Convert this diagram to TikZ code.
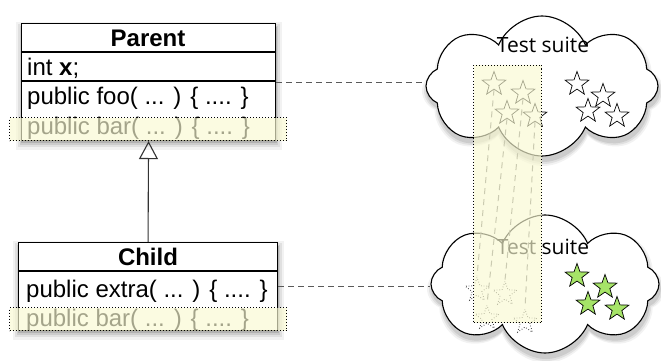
\documentclass[tikz,border=0pt]{standalone}
\usepackage{fontspec}
\setmainfont{Liberation Sans}
\newfontfamily\cloudfont{Open Sans}
\usetikzlibrary{shapes.geometric,shapes.symbols,arrows.meta}
\definecolor{hl}{RGB}{249,249,210}
\definecolor{stargreen}{RGB}{166,228,104}
\definecolor{shA}{gray}{0.95}
\definecolor{shB}{gray}{0.88}
\definecolor{shC}{gray}{0.80}
\definecolor{shD}{gray}{0.70}
\begin{document}
\begin{tikzpicture}[x=1pt,y=-1pt,
  umlbox/.style={draw=black, line width=1.1pt, fill=white, inner sep=0pt},
  sepline/.style={line width=1.1pt},
  txt/.style={inner sep=0pt, font=\fontsize{24}{28}\selectfont},
  hlrow/.style={draw=black, dotted, line width=1pt, fill=hl, fill opacity=0.66, inner sep=0pt},
  cloudbase/.style={cloud, cloud puffs=8, cloud puff arc=135, inner sep=0pt},
  cloudnode/.style={cloudbase, draw=black, line width=1.1pt, fill=white},
  cloudtxt/.style={inner sep=0pt, font=\cloudfont\fontsize{21}{24}\selectfont},
  starnode/.style={star, star points=5, star point ratio=2.45, minimum size=25pt, inner sep=0pt, draw=black, line width=0.7pt},
  ghost/.style={starnode, draw=black!75, dotted, line width=0.9pt},
  conn/.style={draw=black!65, dashed, dash pattern=on 6pt off 4pt, line width=1.1pt},
  trail/.style={draw=black!55, dashed, dash pattern=on 6pt off 5pt, line width=1pt}
]
\useasboundingbox (0,0) rectangle (661,361);

% cloud shadows
\node[cloudbase, fill=shA, minimum width=242pt, minimum height=150pt] (c1shA) at (543,91) {};
\node[cloudbase, fill=shB, minimum width=238pt, minimum height=146pt] (c1shB) at (543,91) {};
\node[cloudbase, fill=shC, minimum width=234pt, minimum height=142pt] (c1shC) at (543,91) {};
\node[cloudbase, fill=shA, minimum width=238pt, minimum height=148pt] (c2shA) at (546,289) {};
\node[cloudbase, fill=shB, minimum width=234pt, minimum height=144pt] (c2shB) at (546,289) {};
\node[cloudbase, fill=shC, minimum width=230pt, minimum height=140pt] (c2shC) at (546,289) {};
% clouds
\node[cloudnode, minimum width=232pt, minimum height=140pt] (c1) at (542,86) {};
\node[cloudnode, minimum width=228pt, minimum height=138pt] (c2) at (545,284) {};
\node[cloudtxt] (t1) at (543,45) {Test suite};
\node[cloudtxt] (t2) at (543,247) {Test suite};

% stars in first suite
\node[starnode] (s1) at (494,84) {};
\node[starnode] (s2) at (523,93) {};
\node[starnode] (s3) at (507,113) {};
\node[starnode] (s4) at (535,116) {};
\node[starnode] (r1) at (577,84) {};
\node[starnode] (r2) at (603,96) {};
\node[starnode] (r3) at (588,111) {};
\node[starnode] (r4) at (617,116) {};

% green stars in second suite
\node[starnode, fill=stargreen] (g1) at (577,276) {};
\node[starnode, fill=stargreen] (g2) at (605,287) {};
\node[starnode, fill=stargreen] (g3) at (588,304) {};
\node[starnode, fill=stargreen] (g4) at (617,309) {};

% ghost stars
\node[ghost] (d1) at (477,290) {};
\node[ghost] (d2) at (505,294) {};
\node[ghost] (d3) at (487,318) {};
\node[ghost] (d4) at (525,322) {};

% trails
\draw[trail] (s1.south) -- (d1.north);
\draw[trail] (s3.south) -- (d3.north);
\draw[trail] (s2.south) -- (d2.north);
\draw[trail] (s4.south) -- (d4.north);

% highlight column
\node[hlrow, anchor=north west, minimum width=68pt, minimum height=257pt] (col) at (473,65) {};

% box shadows
\fill[shA] (16,22) rectangle (282,150);
\fill[shB] (18,24) rectangle (280,147);
\fill[shC] (20,26) rectangle (278,145);
\fill[shD] (21,27) rectangle (277,143);
\fill[shA] (13,241) rectangle (284,340);
\fill[shB] (15,243) rectangle (282,337);
\fill[shC] (17,245) rectangle (280,335);
\fill[shD] (18,246) rectangle (279,333);

% Parent class
\node[umlbox, anchor=north west, minimum width=254pt, minimum height=117pt] (parent) at (21,23) {};
\draw[sepline] (21,52) -- (275,52);
\draw[sepline] (21,81) -- (275,81);
\node[txt] (ptitle) at (148,38) {\bfseries Parent};
\node[txt, anchor=base west] (pint) at (27,75) {int \textbf{x};};
\node[txt, anchor=base west] (pfoo) at (27,104) {public foo( ... ) \{ .... \}};
\node[txt, anchor=base west] (pbar) at (27,134) {public bar( ... ) \{ .... \}};
\node[hlrow, anchor=north west, minimum width=277pt, minimum height=23pt] (prow) at (9,117) {};

% Child class
\node[umlbox, anchor=north west, minimum width=259pt, minimum height=88pt] (child) at (18,242) {};
\draw[sepline] (18,271) -- (277,271);
\node[txt] (ctitle) at (148,257) {\bfseries Child};
\node[txt, anchor=base west] (cextra) at (26,297) {public extra( ... ) \{ .... \}};
\node[txt, anchor=base west] (cbar) at (26,326) {public bar( ... ) \{ .... \}};
\node[hlrow, anchor=north west, minimum width=277pt, minimum height=23pt] (crow) at (9,307) {};

% inheritance
\draw[line width=1.1pt, black!80, -{Triangle[open, length=18pt, width=19pt, line width=1.1pt]}] (child.north) -- (parent.south);

% links to test suites
\draw[conn] (parent.east) -- (c1.west |- parent.east);
\draw[conn] (child.east) -- (c2.west |- child.east);
\end{tikzpicture}
\end{document}
